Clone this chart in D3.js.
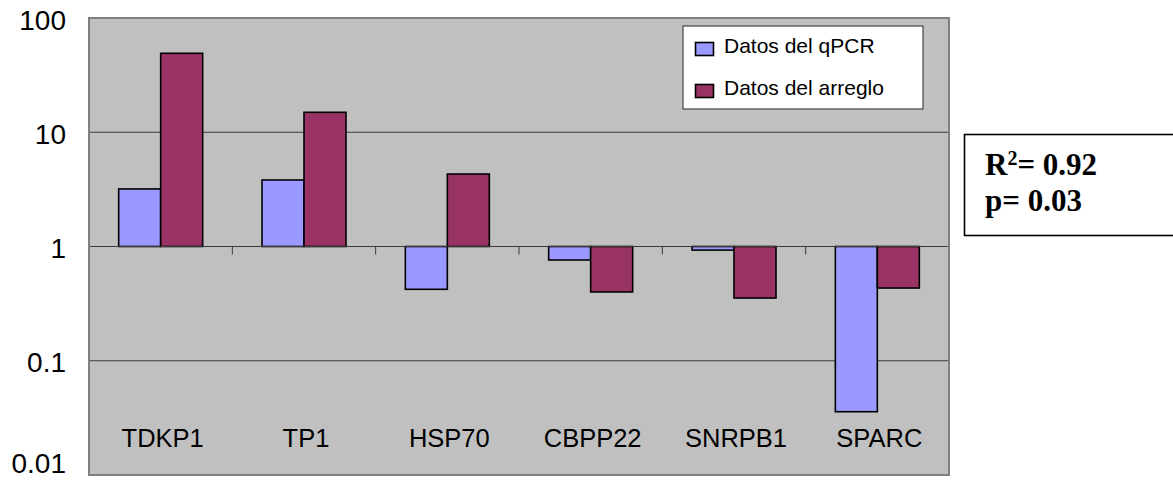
<!DOCTYPE html>
<html>
<head>
<meta charset="utf-8">
<script src="https://cdn.jsdelivr.net/npm/d3@7"></script>
<style>
  html, body { margin: 0; padding: 0; background: #ffffff; }
  svg { display: block; }
</style>
</head>
<body>
<svg id="chart" width="1173" height="481"></svg>
<script>
// Fold-change per gene, qPCR vs. microarray (log scale, baseline at 1)
const categories = ["TDKP1", "TP1", "HSP70", "CBPP22", "SNRPB1", "SPARC"];
const seriesNames = ["Datos del qPCR", "Datos del arreglo"];
const qpcrValues = [3.19, 3.82, 0.422, 0.762, 0.93, 0.0358];
const arregloValues = [49.1, 14.95, 4.31, 0.40, 0.354, 0.433];
const yTickValues = [0.01, 0.1, 1, 10, 100];
const yTickLabels = ["0.01", "0.1", "1", "10", "100"];
const statLines = [
  { label: "R", sup: "2", rest: "= 0.92" },
  { label: "p= 0.03", sup: "", rest: "" }
];

const colors = { "Datos del qPCR": "#9999FF", "Datos del arreglo": "#993366" };
const seriesValues = { "Datos del qPCR": qpcrValues, "Datos del arreglo": arregloValues };

const svg = d3.select("#chart");
const plot = { left: 89, right: 949, top: 18, bottom: 475 };

const y = d3.scaleLog().domain([0.01, 100]).range([plot.bottom, plot.top]);
const x = d3.scaleBand().domain(categories)
  .range([plot.left, plot.right])
  .paddingInner(0.414).paddingOuter(0.207);
const xs = d3.scaleBand().domain(seriesNames).range([0, x.bandwidth()]);

// plot area
svg.append("rect")
  .attr("x", plot.left).attr("y", plot.top)
  .attr("width", plot.right - plot.left).attr("height", plot.bottom - plot.top)
  .attr("fill", "#C0C0C0");

// horizontal gridlines
svg.append("g").selectAll("line")
  .data(yTickValues.filter(v => v > 0.01 && v < 100))
  .join("line")
  .attr("x1", plot.left).attr("x2", plot.right)
  .attr("y1", d => y(d)).attr("y2", d => y(d))
  .attr("stroke", "#3a3a3a").attr("stroke-width", 1);

// bars grow from the baseline value 1
const base = y(1);
const barData = [];
categories.forEach((c, i) => {
  seriesNames.forEach(s => barData.push({ cat: c, series: s, value: seriesValues[s][i] }));
});
svg.append("g").selectAll("rect")
  .data(barData)
  .join("rect")
  .attr("x", d => x(d.cat) + xs(d.series))
  .attr("width", xs.bandwidth())
  .attr("y", d => Math.min(y(d.value), base))
  .attr("height", d => Math.abs(y(d.value) - base))
  .attr("fill", d => colors[d.series])
  .attr("stroke", "#000").attr("stroke-width", 1.6);

// category axis crossing at 1, with ticks between categories
const boundaries = categories.map(c => x(c) - x.step() * x.paddingInner() / 2);
boundaries.push(plot.right);
const catAxis = svg.append("g");
catAxis.append("line")
  .attr("x1", plot.left).attr("x2", plot.right)
  .attr("y1", base).attr("y2", base)
  .attr("stroke", "#3a3a3a").attr("stroke-width", 1);
catAxis.selectAll("line.tick")
  .data(boundaries)
  .join("line").attr("class", "tick")
  .attr("x1", d => d).attr("x2", d => d)
  .attr("y1", base).attr("y2", base + 8)
  .attr("stroke", "#3a3a3a").attr("stroke-width", 1);

// category labels along the bottom of the plot
svg.append("g").selectAll("text")
  .data(categories)
  .join("text")
  .attr("x", d => x(d) + x.bandwidth() / 2 + 2)
  .attr("y", 446.5)
  .attr("text-anchor", "middle")
  .attr("font-family", "Liberation Sans, Arial, sans-serif")
  .attr("font-size", 25.5)
  .attr("fill", "#000")
  .text(d => d);

// plot border
svg.append("rect")
  .attr("x", plot.left).attr("y", plot.top)
  .attr("width", plot.right - plot.left).attr("height", plot.bottom - plot.top)
  .attr("fill", "none").attr("stroke", "#808080").attr("stroke-width", 2);

// value axis
const yAxis = d3.axisLeft(y)
  .tickValues(yTickValues)
  .tickFormat((d, i) => yTickLabels[i])
  .tickSize(0).tickPadding(23);
const yg = svg.append("g")
  .attr("transform", `translate(${plot.left},0)`)
  .call(yAxis);
yg.select(".domain").remove();
yg.selectAll("text")
  .attr("font-family", "Liberation Sans, Arial, sans-serif")
  .attr("font-size", 28)
  .attr("fill", "#000")
  .attr("dy", "0.4em")
  // the lowest label is lifted so it stays inside the canvas
  .attr("transform", d => d === 0.01 ? "translate(0,-14)" : null);

// legend
const legend = svg.append("g");
legend.append("rect")
  .attr("x", 683).attr("y", 26).attr("width", 240).attr("height", 83)
  .attr("fill", "#fff").attr("stroke", "#444").attr("stroke-width", 1.2);
const li = legend.selectAll("g.item")
  .data(seriesNames)
  .join("g").attr("class", "item")
  .attr("transform", (d, i) => `translate(0,${i * 42})`);
li.append("rect")
  .attr("x", 695.5).attr("y", 42.5).attr("width", 18).attr("height", 13)
  .attr("fill", d => colors[d]).attr("stroke", "#000").attr("stroke-width", 1.6);
li.append("text")
  .attr("x", 724).attr("y", 52.5)
  .attr("font-family", "Liberation Sans, Arial, sans-serif")
  .attr("font-size", 21)
  .attr("fill", "#000")
  .text(d => d);

// statistics box
const stat = svg.append("g");
stat.append("rect")
  .attr("x", 964.5).attr("y", 134.5).attr("width", 240).attr("height", 101)
  .attr("fill", "#fff").attr("stroke", "#000").attr("stroke-width", 1.6);
stat.selectAll("text")
  .data(statLines)
  .join("text")
  .attr("x", 985).attr("y", (d, i) => 174.5 + i * 36)
  .attr("font-family", "Liberation Serif, Times New Roman, serif")
  .attr("font-weight", "bold")
  .attr("font-size", 31)
  .attr("fill", "#000")
  .each(function(d) {
    const t = d3.select(this);
    t.append("tspan").text(d.label);
    if (d.sup) {
      t.append("tspan").attr("font-size", 20).attr("dy", -10).text(d.sup);
      t.append("tspan").attr("dy", 10).text(d.rest);
    }
  });
</script>
</body>
</html>
